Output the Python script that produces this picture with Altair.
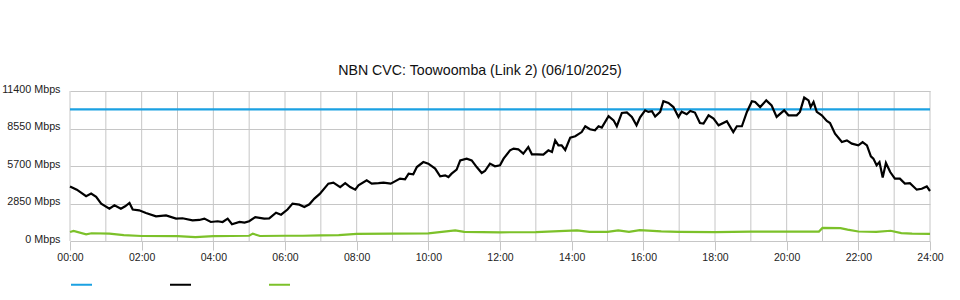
import altair as alt
import pandas as pd

# ---- data ----
series_names = ["CVC Capacity", "Download", "Upload"]
series_colors = ["#1ba1e2", "#000000", "#7cc12a"]

cap_hours = [0, 24]
cap_vals = [10000, 10000]

dl_hours = [0.00, 0.19, 0.45, 0.59, 0.73, 0.87, 1.10, 1.24, 1.42, 1.54, 1.66, 1.75, 1.93, 2.12,
            2.40, 2.68, 2.96, 3.14, 3.42, 3.61, 3.75, 3.93, 4.12, 4.26, 4.40, 4.52, 4.73, 4.87,
            5.00, 5.17, 5.42, 5.56, 5.75, 5.89, 6.07, 6.21, 6.40, 6.54, 6.68, 6.82,
            6.97, 7.21, 7.35, 7.54, 7.68, 7.82, 7.96, 8.05, 8.28, 8.42, 8.61, 8.75, 8.95, 9.21,
            9.35, 9.45, 9.58, 9.68, 9.86, 10.00, 10.19, 10.33, 10.47, 10.56, 10.65, 10.79,
            10.89, 11.07, 11.21, 11.35, 11.49, 11.58, 11.72, 11.86, 12.00, 12.10, 12.28, 12.38,
            12.51, 12.65, 12.79, 12.89, 13.03, 13.21, 13.35, 13.45, 13.54, 13.63, 13.72, 13.82,
            13.96, 14.10, 14.28, 14.38, 14.51, 14.65, 14.75, 14.84, 15.03, 15.17, 15.26, 15.40,
            15.54, 15.68, 15.81,
            15.91, 16.05, 16.14, 16.24, 16.33, 16.47, 16.56, 16.70, 16.84, 16.98, 17.07, 17.21,
            17.31, 17.44, 17.58, 17.68, 17.82, 17.96, 18.10, 18.33, 18.51, 18.61, 18.75, 18.89,
            19.03, 19.12, 19.26, 19.43, 19.58, 19.72, 19.93, 20.05, 20.28, 20.37, 20.49, 20.61,
            20.67, 20.75, 20.84, 20.98, 21.12, 21.21, 21.35, 21.54, 21.68, 21.82, 22.00, 22.12,
            22.24, 22.35, 22.42, 22.51, 22.59, 22.68, 22.77, 22.89, 23.02, 23.16, 23.30, 23.44,
            23.63, 23.77, 23.91, 24.00]
dl_vals = [4150, 3900, 3400, 3600, 3350, 2840, 2460, 2710, 2460, 2640, 2890, 2390, 2330, 2130,
           1880, 1950, 1700, 1730, 1570, 1600, 1700, 1445, 1500, 1445, 1700, 1270, 1445, 1400,
           1500, 1820, 1700, 1720, 2150, 2000, 2390, 2840, 2760, 2590, 2790, 3220,
           3580, 4360, 4440, 4100, 4400, 4100, 3900, 4230, 4610, 4360, 4400, 4440, 4360, 4740,
           4680, 5120, 5070, 5620, 6000, 5880, 5500, 4920, 4990, 4860, 5120, 5420,
           6130, 6260, 6130, 5620, 5170, 5320, 5880, 5680, 5750, 6260, 6890, 7020,
           6970, 6640, 7140, 6590, 6590, 6560, 6890, 6760, 7650, 7270, 7270, 6920,
           7860, 7960, 8280, 8720, 8490, 8410, 8720, 8620, 9480, 9170, 8720, 9730,
           9780, 9430, 8800,
           9400, 9930, 9810, 9860, 9460, 9810, 10620, 10490, 10180, 9430, 9830, 9630,
           9880, 9760, 8970, 8920, 9550, 9300, 8790, 9100, 8280, 8720, 8720, 9810,
           10620, 10560, 10180, 10690, 10300, 9430, 9930, 9550, 9550, 9810, 10900, 10690,
           10180, 10560, 9810, 9550, 9120, 8970, 8160, 7520, 7650, 7400, 7270, 7520,
           7270, 6440, 6260, 5750, 6000, 4820, 5930, 5240, 4740, 4740, 4360, 4400,
           3900, 3970, 4150, 3800]

ul_hours = [0.0, 0.1, 0.45, 0.6, 1.1, 1.5, 2.0, 3.0, 3.5, 4.0, 5.0, 5.1, 5.3, 6.0, 6.5, 7.0,
            7.5, 8.0, 9.0, 10.0, 10.75, 11.0, 11.5, 12.0, 13.0, 14.15, 14.5, 15.0, 15.3, 15.6,
            15.9, 16.5, 17.0, 18.0, 18.5, 19.0, 20.0, 20.9, 21.0, 21.5, 21.7, 22.0, 22.5, 22.9,
            23.2, 23.5, 24.0]
ul_vals = [680, 760, 510, 590, 560, 450, 380, 370, 300, 370, 400, 560, 380, 400, 400, 430,
           440, 540, 560, 580, 810, 690, 680, 660, 680, 810, 690, 700, 800, 700,
           820, 730, 700, 680, 700, 720, 720, 720, 990, 980, 860, 720, 700, 780,
           600, 560, 540]

y_ticks = [0, 2850, 5700, 8550, 11400]
x_ticks = list(range(0, 25, 2))
grid_hours = list(range(0, 25))
title_text = "NBN CVC: Toowoomba (Link 2) (06/10/2025)"

# ---- build table ----
df = pd.concat([
    pd.DataFrame({"hour": cap_hours, "mbps": cap_vals, "series": series_names[0]}),
    pd.DataFrame({"hour": dl_hours, "mbps": dl_vals, "series": series_names[1]}),
    pd.DataFrame({"hour": ul_hours, "mbps": ul_vals, "series": series_names[2]}),
], ignore_index=True)

FONT = "Liberation Sans"
GRID = "#c6c6c6"

xscale = alt.Scale(domain=[0, 24], nice=False, zero=False)
yscale = alt.Scale(domain=[0, 11400], nice=False)

xaxis = alt.Axis(values=x_ticks, grid=False, domain=False, tickSize=9, tickColor=GRID,
                 labelExpr="(datum.value < 10 ? '0' : '') + datum.value + ':00'",
                 labelFont=FONT, labelFontSize=10.5, labelColor="#222222", labelPadding=2,
                 title=None, labelFlush=False)
yaxis = alt.Axis(values=y_ticks, grid=True, gridColor=GRID, domain=False, ticks=False,
                 labelExpr="datum.value + ' Mbps'", labelFont=FONT, labelFontSize=10.75,
                 labelColor="#222222", labelPadding=10, title=None, labelOffset=-2)

color = alt.Color("series:N",
                  scale=alt.Scale(domain=series_names, range=series_colors),
                  legend=alt.Legend(orient="none", legendX=0, legendY=182, direction="horizontal",
                                    title=None, symbolType="stroke", symbolSize=441,
                                    symbolStrokeWidth=2, labelExpr="''", labelOffset=0,
                                    columnPadding=70, padding=0, labelFontSize=1))

vgrid = alt.Chart(pd.DataFrame({"h": grid_hours})).mark_rule(color=GRID, strokeWidth=1).encode(
    x=alt.X("h:Q", scale=xscale, axis=xaxis)
)

def line(name):
    return alt.Chart(df).transform_filter(alt.datum.series == name).mark_line(
        strokeWidth=2.2, interpolate="linear"
    ).encode(
        x=alt.X("hour:Q", scale=xscale, axis=xaxis),
        y=alt.Y("mbps:Q", scale=yscale, axis=yaxis),
        color=color,
    )

chart = alt.layer(vgrid, line(series_names[0]), line(series_names[2]), line(series_names[1])).properties(
    width=860, height=150,
    title=alt.TitleParams(title_text, font=FONT, fontSize=14.2, fontWeight="normal", color="#111111",
                          anchor="middle", frame="group", dx=-20, offset=5),
    padding={"left": 70, "top": 91, "right": 30, "bottom": 59},
    autosize=alt.AutoSizeParams(type="none"),
    background="white",
).configure_view(stroke=None)

chart.save("out.html", embed_options={"renderer": "svg", "actions": False})
